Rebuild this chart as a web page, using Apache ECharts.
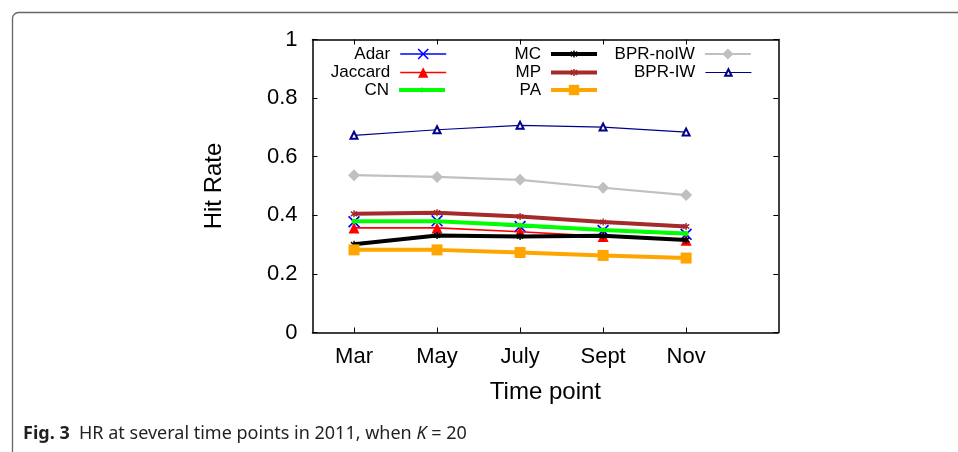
<!DOCTYPE html>
<html>
<head>
<meta charset="utf-8">
<script src="https://cdn.jsdelivr.net/npm/echarts@6/dist/echarts.min.js"></script>
<style>
html,body{margin:0;padding:0;background:#fff;}
#main{width:958px;height:452px;}
</style>
</head>
<body>
<div id="main"></div>
<script>
var categories = ['Mar', 'May', 'July', 'Sept', 'Nov'];
var yTicks = [0, 0.2, 0.4, 0.6, 0.8, 1];
var seriesNames = ['Adar', 'Jaccard', 'CN', 'MC', 'MP', 'PA', 'BPR-noIW', 'BPR-IW'];
var adar = [0.378, 0.381, 0.362, 0.348, 0.335];
var jaccard = [0.357, 0.357, 0.344, 0.328, 0.315];
var cn = [0.380, 0.380, 0.366, 0.350, 0.338];
var mc = [0.301, 0.331, 0.328, 0.330, 0.316];
var mp = [0.405, 0.409, 0.396, 0.377, 0.362];
var pa = [0.282, 0.282, 0.273, 0.263, 0.254];
var bprNoIW = [0.537, 0.531, 0.521, 0.494, 0.469];
var bprIW = [0.673, 0.692, 0.707, 0.701, 0.684];

var values = [adar, jaccard, cn, mc, mp, pa, bprNoIW, bprIW];
var xSym = 'path://M0,1L1,0L5,4L9,0L10,1L6,5L10,9L9,10L5,6L1,10L0,9L4,5Z';
var starSym = 'path://M4,0L6,0L6,3L9,1L10,3L7,5L10,7L9,9L6,7L6,10L4,10L4,7L1,9L0,7L3,5L0,3L1,1L4,3Z';
var styles = [
  {color:'#0000ff', width:1.6, symbol:xSym, size:12, lh:14},
  {color:'#ff0000', width:1.6, symbol:'triangle', size:11, lh:13},
  {color:'#00ff00', width:4, symbol:'circle', size:5, lh:6},
  {color:'#000000', width:4, symbol:starSym, size:7, lh:9},
  {color:'#a52a2a', width:4, symbol:starSym, size:7, lh:9},
  {color:'#ffa500', width:4, symbol:'rect', size:11, lh:13},
  {color:'#c0c0c0', width:2.2, symbol:'diamond', size:12, lh:14},
  {color:'#00008b', width:1.2, symbol:'emptyTriangle', size:7, lh:8}
];
var legendPos = [
  [511, 54], [511, 72.5], [511, 90],
  [359, 54], [359, 72.5], [359, 90],
  [206, 54], [206, 72.5]
];

var FONT = '"Liberation Sans", Arial, Helvetica, sans-serif';
var CAPFONT = '"Noto Sans", "Open Sans", sans-serif';

var series = seriesNames.map(function (name, i) {
  var st = styles[i];
  return {
    name: name,
    type: 'line',
    xAxisIndex: 0,
    yAxisIndex: 0,
    data: values[i].map(function (v, j) { return [j, v]; }),
    symbol: st.symbol,
    symbolSize: st.size,
    showAllSymbol: true,
    lineStyle: {color: st.color, width: st.width},
    itemStyle: st.symbol === 'emptyTriangle'
      ? {color: st.color, borderColor: st.color, borderWidth: 1.2}
      : {color: st.color, borderWidth: 0},
    emphasis: {disabled: true},
    animation: false,
    z: 2 + i
  };
});

var legends = seriesNames.map(function (name, i) {
  var st = styles[i];
  return {
    data: [name],
    orient: 'horizontal',
    align: 'right',
    right: legendPos[i][0],
    top: legendPos[i][1] - 10,
    padding: 0,
    itemWidth: 46,
    itemHeight: st.lh,
    selectedMode: false,
    lineStyle: {width: st.width, color: st.color},
    textStyle: {fontFamily: FONT, fontSize: 17, lineHeight: 20, height: 20, color: '#000', padding: [0, 5, 0, 0]}
  };
});

var option = {
  animation: false,
  backgroundColor: '#ffffff',
  textStyle: {fontFamily: FONT},
  grid: {left: 312.5, right: 179.7, top: 39.5, bottom: 119.5, containLabel: false},
  legend: legends,
  title: {
    text: '{b|Fig. 3}  HR at several time points in 2011, when {i|K} = 20',
    left: 23,
    top: 425,
    padding: 0,
    textStyle: {
      fontFamily: CAPFONT,
      fontSize: 18,
      fontWeight: 'normal',
      color: '#231f20',
      rich: {
        b: {fontFamily: CAPFONT, fontSize: 18, fontWeight: 'bold', color: '#231f20'},
        i: {fontFamily: CAPFONT, fontSize: 18, fontStyle: 'italic', color: '#231f20'}
      }
    }
  },
  graphic: [{
    type: 'rect',
    shape: {x: 12.5, y: 12.5, width: 1000, height: 500, r: 6},
    style: {stroke: '#666', lineWidth: 1.3, fill: null},
    silent: true
  }],
  xAxis: [{
    type: 'value',
    position: 'bottom',
    min: -0.5,
    max: 5.11,
    name: 'Time point',
    nameLocation: 'middle',
    nameGap: 48,
    nameTextStyle: {fontFamily: FONT, fontSize: 24, color: '#000'},
    axisLine: {show: true, onZero: false, lineStyle: {color: '#000', width: 1.5}},
    axisTick: {show: true, inside: true, length: 5, customValues: [0, 1, 2, 3, 4], lineStyle: {color: '#000', width: 1}},
    axisLabel: {
      show: true, margin: 13, fontFamily: FONT, fontSize: 22, color: '#000',
      customValues: [0, 1, 2, 3, 4],
      formatter: function (v) { return categories[Math.round(v)] || ''; }
    },
    splitLine: {show: false}
  }, {
    type: 'value',
    position: 'top',
    min: -0.5,
    max: 5.11,
    axisLine: {show: true, onZero: false, lineStyle: {color: '#000', width: 1.5}},
    axisTick: {show: true, inside: true, length: 5, customValues: [0, 1, 2, 3, 4], lineStyle: {color: '#000', width: 1}},
    axisLabel: {show: false},
    splitLine: {show: false}
  }],
  yAxis: [{
    type: 'value',
    position: 'left',
    min: 0,
    max: 1,
    interval: 0.2,
    name: 'Hit Rate',
    nameLocation: 'middle',
    nameRotate: 90,
    nameGap: 86,
    nameTextStyle: {fontFamily: FONT, fontSize: 24, color: '#000'},
    axisLine: {show: true, onZero: false, lineStyle: {color: '#000', width: 1.5}},
    axisTick: {show: true, inside: true, length: 5, lineStyle: {color: '#000', width: 1}},
    axisLabel: {
      show: true, margin: 15, fontFamily: FONT, fontSize: 22, color: '#000',
      customValues: yTicks,
      formatter: function (v) { return String(Math.round(v * 10) / 10); }
    },
    splitLine: {show: false}
  }, {
    type: 'value',
    position: 'right',
    min: 0,
    max: 1,
    interval: 0.2,
    axisLine: {show: true, onZero: false, lineStyle: {color: '#000', width: 1.5}},
    axisTick: {show: true, inside: true, length: 5, lineStyle: {color: '#000', width: 1}},
    axisLabel: {show: false},
    splitLine: {show: false}
  }],
  series: series
};

var chart = echarts.init(document.getElementById('main'), null, {renderer: 'canvas'});
chart.setOption(option);
</script>
</body>
</html>
